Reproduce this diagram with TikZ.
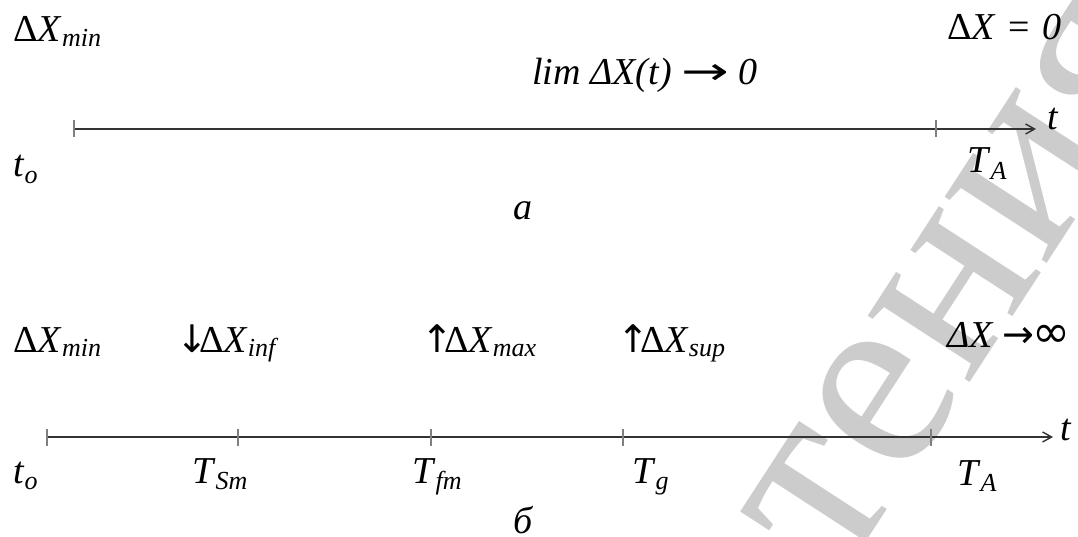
\documentclass[tikz,border=0pt]{standalone}
\usepackage{fontspec}
\setmainfont{Liberation Serif}
\newfontfamily\arr{DejaVu Sans}
\usetikzlibrary{arrows.meta}
\newcommand{\sbs}[1]{\raisebox{-0.13em}{\fontsize{26}{28}\selectfont\itshape #1}}
\newcommand{\sbt}[1]{\raisebox{-0.17em}{\fontsize{26}{28}\selectfont\itshape #1}}
\newcommand{\longarr}{\scalebox{1.5}[1]{\arr →}}
\newcommand{\uparr}{\hspace{-6pt}{\arr ↑}\hspace{-9pt}}
\newcommand{\dnarr}{\hspace{-6pt}{\arr ↓}\hspace{-9pt}}
\tikzset{
  lbl/.style={inner sep=0, anchor=base west, font=\fontsize{38}{40}\selectfont},
  axisline/.style={line width=1.8pt, draw=black!80},
  axisarrow/.style={line width=1.8pt, draw=black!80, -{Straight Barb[length=9pt,width=10pt,line width=1.4pt]}},
  tickmark/.style={line width=2pt, draw=black!50},
  wmark/.style={inner sep=0, anchor=base west, rotate=57, text=black!20, font=\fontsize{265}{265}\selectfont},
}
\begin{document}
\begin{tikzpicture}[x=1pt,y=-1pt]
\useasboundingbox (0,0) rectangle (1078,537);
% watermark
\begin{scope}
\clip (0,0) rectangle (1078,537);
\node[wmark] (wm) at (840,582) {тения};
\end{scope}
% ---------- diagram a ----------
\coordinate (a0) at (74,129);
\coordinate (aA) at (936,129);
\coordinate (aE) at (1036,129);
\draw[axisline] (a0) -- (aA);
\draw[axisarrow] (aA) -- (aE);
\foreach \p in {a0,aA} \draw[tickmark] ([yshift=8.5pt]\p) -- ([yshift=-8.5pt]\p);
\node[lbl] (aXmin) at (13,42) {Δ\textit{X}\sbs{min}};
\node[lbl] (alim) at (532,85) {\textit{lim ΔX(t)} \longarr{} \textit{0}};
\node[lbl] (aX0) at (947,40) {Δ\textit{X}\hspace{3pt} = \hspace{3pt}\textit{0}};
\node[lbl] (at) at (1047,130) {\textit{t}};
\node[lbl] (ato) at (13,177) {\textit{t}\sbt{o}};
\node[lbl] (aTA) at (967,173) {\textit{T}\sbt{A}};
\node[lbl] (acap) at (513,220) {\textit{а}};
% ---------- diagram b ----------
\coordinate (b0) at (47,437);
\coordinate (bS) at (238,437);
\coordinate (bF) at (431,437);
\coordinate (bG) at (623,437);
\coordinate (bA) at (931,437);
\coordinate (bE) at (1053,437);
\draw[axisline] (b0) -- (bS) -- (bF) -- (bG) -- (bA);
\draw[axisarrow] (bA) -- (bE);
\foreach \p in {b0,bS,bF,bG,bA} \draw[tickmark] ([yshift=8.5pt]\p) -- ([yshift=-8.5pt]\p);
\node[lbl] (bXmin) at (13,352) {Δ\textit{X}\sbs{min}};
\node[lbl] (bXinf) at (182,352) {\dnarr Δ\textit{X}\sbs{inf}};
\node[lbl] (bXmax) at (427,352) {\uparr Δ\textit{X}\sbs{max}};
\node[lbl] (bXsup) at (623,352) {\uparr Δ\textit{X}\sbs{sup}};
\node[lbl] (bXinfty) at (947,347) {\textit{ΔX}\hspace{9pt}{\arr →\hspace{-2pt}\scalebox{1.2}{∞}}};
\node[lbl] (bt) at (1060,440) {\textit{t}};
\node[lbl] (bto) at (13,483) {\textit{t}\sbt{o}};
\node[lbl] (bTS) at (192,483) {\textit{T}\sbt{Sm}};
\node[lbl] (bTF) at (412,483) {\textit{T}\sbt{fm}};
\node[lbl] (bTG) at (632,483) {\textit{T}\sbt{g}};
\node[lbl] (bTA) at (957,485) {\textit{T}\sbt{A}};
\node[lbl] (bcap) at (513,533) {\textit{б}};
\end{tikzpicture}
\end{document}
